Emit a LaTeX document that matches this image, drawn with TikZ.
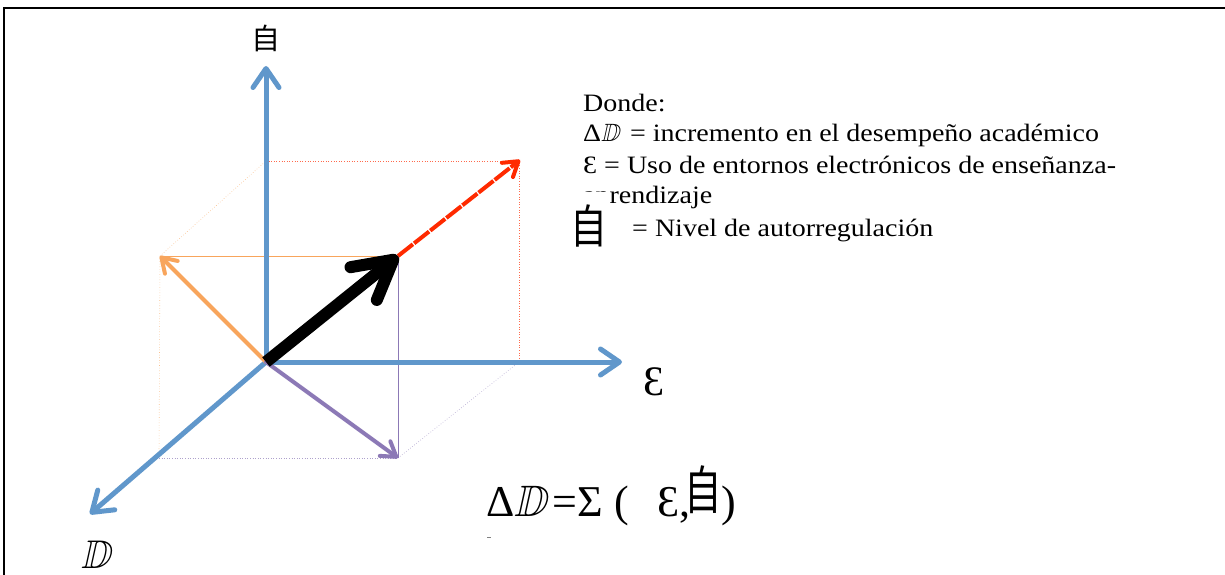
\documentclass[tikz,border=0pt]{standalone}
\usepackage{amssymb}
\usepackage{graphicx}
\usepackage{fontspec}
\setmainfont{Liberation Serif}
\newfontfamily\legfont[FakeStretch=1.12]{Liberation Serif}
\newfontfamily\cjk{Noto Sans CJK SC}
\usetikzlibrary{arrows.meta}
\definecolor{axblue}{HTML}{6097CB}
\definecolor{vorange}{HTML}{F8A55C}
\definecolor{vpurple}{HTML}{8C79B6}
\definecolor{vred}{HTML}{FF2A00}
\newcommand\myDD{\tikz[baseline=0pt]\node[inner sep=0pt,anchor=base,xslant=0.22]{$\mathbb{D}$};}
\tikzset{
  axis/.style={draw=axblue,line width=5pt,line cap=round,line join=round,
    -{Straight Barb[length=19pt,width=26pt,line cap=round,line join=round]}},
  vecor/.style={draw=vorange,line width=4pt,line cap=round,
    -{Straight Barb[length=14pt,width=18pt,line cap=round,line join=round]}},
  vecpu/.style={draw=vpurple,line width=4pt,line cap=round,
    -{Straight Barb[length=14pt,width=18pt,line cap=round,line join=round]}},
  vecbk/.style={draw=black,line width=12pt,
    -{Straight Barb[length=38pt,width=42pt,line cap=round,line join=round]}},
  vecred/.style={draw=vred,line width=4pt,dash pattern=on 19pt off 1.5pt,
    -{Straight Barb[length=14pt,width=18pt,line cap=round,line join=round]}},
  boxdot/.style={line width=0.6pt,dotted},
  legend/.style={anchor=base west,inner sep=0pt,font=\legfont\fontsize{25}{28}\selectfont},
}
\begin{document}
\begin{tikzpicture}[x=1pt,y=-1pt]
\useasboundingbox (0,0) rectangle (1225,575);
\fill[white] (0,0) rectangle (1225,575);
% frame
\draw[line width=2.5pt] (4,575) -- (4,8) -- (1225,8);
% coordinates
\coordinate (O) at (266,362);
\coordinate (Yt) at (266,66);
\coordinate (Xt) at (622,362);
\coordinate (Dt) at (90,514);
\coordinate (A) at (160,256);
\coordinate (B) at (398,256);
\coordinate (C) at (398,458);
\coordinate (F) at (159,458);
\coordinate (G) at (266,161);
\coordinate (H) at (519,161);
\coordinate (I) at (519,362);
\coordinate (R) at (520,160);
% box lines
\draw[vorange!70,boxdot] (A) -- (F);
\draw[vorange!70,boxdot] (A) -- (G);
\draw[vpurple!70,boxdot] (F) -- (C);
\draw[vpurple!70,boxdot] (C) -- (I);
\draw[vred!70,boxdot] (G) -- (H) -- (I);
\draw[vorange,line width=1pt] (A) -- (B);
\draw[vpurple,line width=1pt] (B) -- (C);
% axes
\draw[axis] (O) -- (Yt);
\draw[axis] (O) -- (Xt);
\draw[axis] (O) -- (Dt);
% vectors
\draw[vecor] (O) -- (A);
\draw[vecpu] (O) -- (C);
\draw[vecred] (B) -- (R);
\draw[vecbk] (O) -- (B);
% axis labels
\node[inner sep=0pt,font=\cjk\fontsize{29}{30}\selectfont] (ly) at (266,38) {自};
\node[inner sep=0pt,font=\fontsize{42}{44}\selectfont] (lx) at (654,382) {Ɛ};
\node[inner sep=0pt,font=\fontsize{40}{42}\selectfont] (ld) at (99,555) {\myDD};
% legend
\node[legend] (l1) at (583,112) {Donde:};
\node[legend] (l2) at (583,142) {Δ\myDD{} = incremento en el desempeño académico};
\node[legend] (l3) at (583,173) {Ɛ = Uso de entornos electrónicos de enseñanza-};
\node[legend] (l4) at (583,203) {aprendizaje};
\fill[white] (576,192) rectangle (610,250);
\node[inner sep=0pt,font=\cjk\fontsize{46}{48}\selectfont] (l5a) at (589,226) {\scalebox{0.8}[1]{自}};
\node[legend] (l5) at (632,236) {= Nivel de autorregulación};
% formula
\node[anchor=base west,inner sep=0pt,font=\fontsize{44}{46}\selectfont] (f1) at (486,516)
  {Δ\myDD=Σ (\hspace{28pt}Ɛ,\kern-6pt\raisebox{7pt}{\cjk\fontsize{52}{54}\selectfont\scalebox{0.72}[1]{自}})};
\draw[gray,line width=1pt] (487,537) -- (491,537);
\end{tikzpicture}
\end{document}
